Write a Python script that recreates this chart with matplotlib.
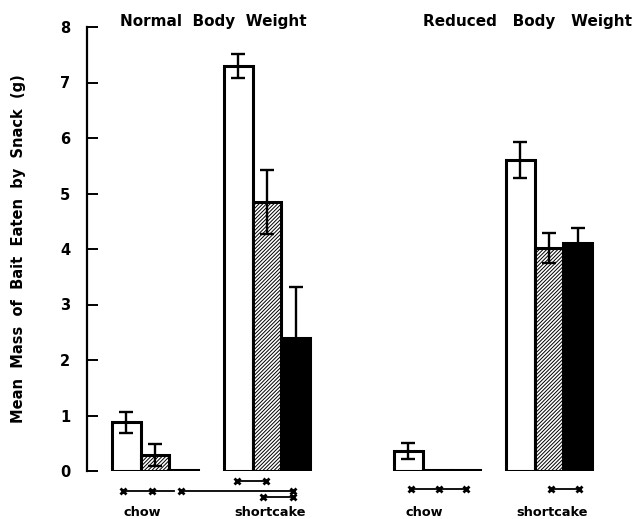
import matplotlib.pyplot as plt
import numpy as np

plt.rcParams['font.family'] = ['DejaVu Sans']
plt.rcParams['font.weight'] = 'bold'
plt.rcParams['hatch.linewidth'] = 0.7

# bar order in each group: ad lib (white), hatched, black
normal_chow = [0.88, 0.29, 0.02]
normal_chow_err = [0.19, 0.20, 0.0]
normal_cake = [7.30, 4.85, 2.40]
normal_cake_err = [0.22, 0.58, 0.92]
reduced_chow = [0.36, 0.02, 0.02]
reduced_chow_err = [0.14, 0.0, 0.0]
reduced_cake = [5.60, 4.01, 4.11]
reduced_cake_err = [0.32, 0.27, 0.27]

panel_titles = ['Normal  Body  Weight', 'Reduced   Body   Weight']
food_labels = ['chow', 'shortcake']
yticks = [0, 1, 2, 3, 4, 5, 6, 7, 8]

fig = plt.figure(figsize=(6.39, 5.19), dpi=100)
ax = fig.add_axes([87 / 639, 48 / 519, 530 / 639, 444 / 519])

panel_start = [0.87, 10.70]
food_offset = [0.0, 3.9]
styles = [dict(color='white', hatch=None),
          dict(color='white', hatch='/////////'),
          dict(color='black', hatch=None)]

panels = [[(normal_chow, normal_chow_err), (normal_cake, normal_cake_err)],
          [(reduced_chow, reduced_chow_err), (reduced_cake, reduced_cake_err)]]

centers = {}
for p, groups in enumerate(panels):
    for f, (vals, errs) in enumerate(groups):
        x0 = panel_start[p] + food_offset[f]
        xs = x0 + 0.5 + np.arange(3)
        for i in range(3):
            st = styles[i]
            ax.bar(xs[i], vals[i], width=1.0, facecolor=st['color'],
                   edgecolor='black', linewidth=2.2, hatch=st['hatch'], zorder=2)
            if errs[i] > 0:
                ax.errorbar(xs[i], vals[i], yerr=errs[i], fmt='none',
                            ecolor='black', elinewidth=1.7, capsize=5,
                            capthick=1.7, zorder=3)
            centers[(p, f, i)] = xs[i]

# comparison marks under the bars
def mark(xa, xb, y, marks):
    ax.plot([xa, xb], [y, y], color='black', lw=1.3, clip_on=False)
    ax.plot(marks, [y] * len(marks), ls='none', marker='x', ms=5,
            mew=2.0, color='black', clip_on=False)

c = centers
mark(c[(0, 1, 0)] - 0.05, c[(0, 1, 1)] - 0.05, -0.18,
     [c[(0, 1, 0)] - 0.05, c[(0, 1, 1)] - 0.05])
mark(c[(0, 0, 0)] - 0.1, c[(0, 0, 2)] - 0.35, -0.36,
     [c[(0, 0, 0)] - 0.1, c[(0, 0, 1)] - 0.1])
mark(c[(0, 0, 2)] - 0.1, c[(0, 1, 2)] - 0.1, -0.36,
     [c[(0, 0, 2)] - 0.1, c[(0, 1, 2)] - 0.1])
mark(c[(0, 1, 1)] - 0.15, c[(0, 1, 2)] - 0.1, -0.47,
     [c[(0, 1, 1)] - 0.15, c[(0, 1, 2)] - 0.1])
mark(c[(1, 0, 0)] + 0.1, c[(1, 0, 2)], -0.32,
     [c[(1, 0, 0)] + 0.1, c[(1, 0, 1)] + 0.05, c[(1, 0, 2)]])
mark(c[(1, 1, 1)] + 0.05, c[(1, 1, 2)] + 0.05, -0.32,
     [c[(1, 1, 1)] + 0.05, c[(1, 1, 2)] + 0.05])

for p in range(2):
    for f in range(2):
        cx = c[(p, f, 1)] - 0.45 if f == 0 else c[(p, f, 1)] + 0.1
        ax.text(cx, -0.74, food_labels[f], ha='center', va='center',
                fontsize=9.3, fontweight='bold', clip_on=False)

fig.text(120 / 639, 1 - 22 / 519, panel_titles[0], ha='left', va='center',
         fontsize=11, fontweight='bold')
fig.text(423 / 639, 1 - 22 / 519, panel_titles[1], ha='left', va='center',
         fontsize=11, fontweight='bold')

ax.set_xlim(0, 530 / 28.7)
ax.set_ylim(0, 8)
ax.set_yticks(yticks)
ax.set_xticks([])
for s in ['top', 'right', 'bottom']:
    ax.spines[s].set_visible(False)
ax.spines['left'].set_linewidth(1.6)
ax.tick_params(axis='y', direction='in', length=8, width=1.4, pad=12,
               labelsize=10.5)
ax.set_ylabel('Mean  Mass  of  Bait  Eaten  by  Snack  (g)', fontsize=10.5,
              fontweight='bold')
ax.yaxis.set_label_coords(-0.115, 0.5)

fig.savefig('out.png', dpi=100)
